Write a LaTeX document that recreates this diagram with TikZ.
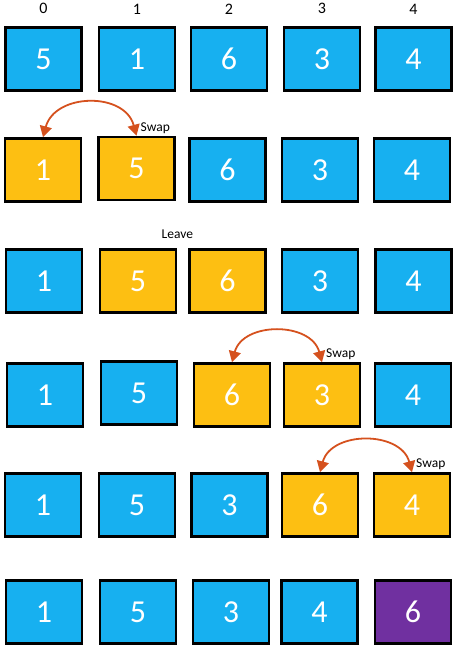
\documentclass[tikz,border=0pt]{standalone}
\usepackage{fontspec}
\setmainfont{Carlito}
\usepackage{xcolor}
\usetikzlibrary{arrows.meta,positioning}

\definecolor{cellblue}{HTML}{17B0F0}
\definecolor{cellgold}{HTML}{FDBF12}
\definecolor{cellpurple}{HTML}{7030A0}
\definecolor{swapred}{HTML}{D5511E}

\begin{document}
\begin{tikzpicture}[x=1pt, y=1pt,
  cell/.style={draw=black, line width=2.6pt, minimum width=76pt, minimum height=63pt,
    inner sep=0pt, text=white, font=\fontsize{32}{34}\selectfont},
  bluecell/.style={cell, fill=cellblue},
  goldcell/.style={cell, fill=cellgold},
  purplecell/.style={cell, fill=cellpurple},
  swaparrow/.style={{Triangle[length=11pt,width=12pt]}-{Triangle[length=11pt,width=12pt]},
    draw=swapred, line width=1.8pt},
  lbl/.style={font=\fontsize{13.5}{15}\selectfont, inner sep=0pt},
  idx/.style={font=\fontsize{16}{18}\selectfont, inner sep=0pt}]
  % Keep the page the size of the original
  \useasboundingbox (0,0) rectangle (455,-651);

  % Row 1: start
  \node[bluecell] (r1n0) at (43.5,-59) {5};
  \node[bluecell] (r1n1) at (137,-59) {1};
  \node[bluecell] (r1n2) at (229,-59) {6};
  \node[bluecell] (r1n3) at (322,-59) {3};
  \node[bluecell] (r1n4) at (413.5,-59) {4};

  % Indices over the first row
  \node[idx, above=12pt of r1n0.north] (i0) {0};
  \node[idx, above=12pt of r1n1.north] (i1) {1};
  \node[idx, above=12pt of r1n2.north] (i2) {2};
  \node[idx, above=12pt of r1n3.north] (i3) {3};
  \node[idx, above=12pt of r1n4.north] (i4) {4};

  % Row 2: swap 0 and 1
  \node[goldcell] (r2n0) at (43,-170) {1};
  \node[goldcell] (r2n1) at (136.5,-168.5) {5};
  \node[bluecell] (r2n2) at (227.5,-170) {6};
  \node[bluecell] (r2n3) at (320,-170) {3};
  \node[bluecell] (r2n4) at (412,-170) {4};
  \draw[swaparrow] (r2n1.north) to[out=105,in=75,looseness=1.25] (r2n0.north);
  \node[lbl, above right=2pt and 4pt of r2n1.north] (s2) {Swap};

  % Row 3: leave 1 and 2
  \node[bluecell] (r3n0) at (44,-281) {1};
  \node[goldcell] (r3n1) at (138,-281) {5};
  \node[goldcell] (r3n2) at (227.5,-281) {6};
  \node[bluecell] (r3n3) at (320,-281) {3};
  \node[bluecell] (r3n4) at (413.5,-281) {4};
  \node[lbl, above=9pt of r3n1.north east] (l3) {Leave};

  % Row 4: swap 2 and 3
  \node[bluecell] (r4n0) at (45,-395) {1};
  \node[bluecell] (r4n1) at (139,-393) {5};
  \node[goldcell] (r4n2) at (232,-395) {6};
  \node[goldcell] (r4n3) at (322,-395) {3};
  \node[bluecell] (r4n4) at (413,-395) {4};
  \draw[swaparrow] (r4n3.north) to[out=105,in=75,looseness=1.2] (r4n2.north);
  \node[lbl, above right=2pt and 4pt of r4n3.north] (s4) {Swap};

  % Row 5: swap 3 and 4
  \node[bluecell] (r5n0) at (43,-505) {1};
  \node[bluecell] (r5n1) at (137,-505) {5};
  \node[bluecell] (r5n2) at (229.5,-505) {3};
  \node[goldcell] (r5n3) at (320,-505) {6};
  \node[goldcell] (r5n4) at (412,-505) {4};
  \draw[swaparrow] (r5n4.north) to[out=105,in=75,looseness=1.2] (r5n3.north);
  \node[lbl, above right=2pt and 4pt of r5n4.north] (s5) {Swap};

  % Row 6: largest value in place
  \node[bluecell] (r6n0) at (44,-612) {1};
  \node[bluecell] (r6n1) at (138,-612) {5};
  \node[bluecell] (r6n2) at (231,-612) {3};
  \node[bluecell] (r6n3) at (319.5,-612) {4};
  \node[purplecell] (r6n4) at (413,-612) {6};
\end{tikzpicture}
\end{document}
